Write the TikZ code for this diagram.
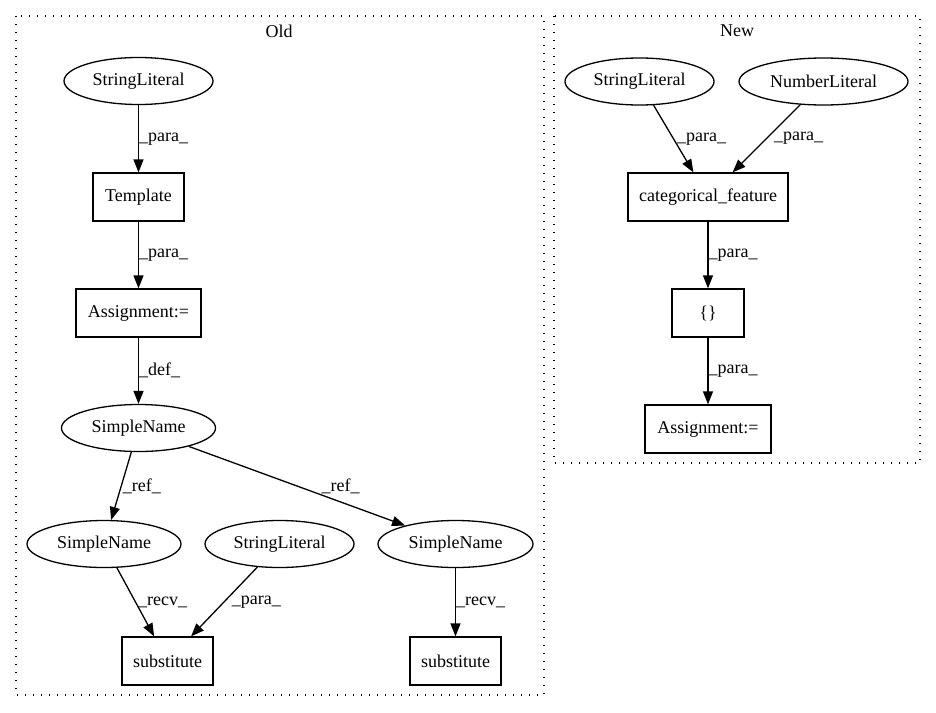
\documentclass[tikz,border=0pt]{standalone}
\usepackage{fontspec}
\setmainfont{Liberation Serif}
\usetikzlibrary{shapes.geometric,arrows.meta}
\tikzset{
  txt/.style={font=\fontsize{18}{20}\selectfont},
  ast/.style={txt, draw, ellipse, line width=1.3pt, inner sep=0pt, minimum height=47pt},
  op/.style={txt, draw, rectangle, line width=1.3pt, inner sep=0pt, minimum height=48pt},
  flow/.style={-{Triangle[length=13pt,width=10pt]}, line width=1.3pt},
  lbl/.style={txt, inner sep=0pt, anchor=west},
  cluster/.style={line width=1.4pt, dash pattern=on 1.4pt off 6.6pt}
}
\begin{document}
\begin{tikzpicture}[x=1pt,y=-1pt]
  \useasboundingbox (0,0) rectangle (936,712);

  % Old
  \begin{scope}
    \draw[cluster] (16,16) rectangle (544,695);
    \node[txt] (oldtitle) at (279,31) {Old};
    \node[ast, minimum width=149pt] (strlit) at (138.5,81) {StringLiteral};
    \node[op, minimum width=91pt] (template) at (138.5,197) {Template};
    \node[op, minimum width=125pt] (assign) at (138.5,313) {Assignment:=};
    \node[ast, minimum width=154pt] (name) at (138.5,428) {SimpleName};
    \node[ast, minimum width=154pt] (nameA) at (104,544) {SimpleName};
    \node[ast, minimum width=149pt] (strlitB) at (279.5,544) {StringLiteral};
    \node[ast, minimum width=155pt] (nameB) at (455.5,544) {SimpleName};
    \node[op, minimum width=91pt] (substA) at (167.5,661) {substitute};
    \node[op, minimum width=91pt] (substB) at (455.5,661) {substitute};
    % Kanten
    \draw[flow] (strlit) -- node[lbl] {\_para\_} (template);
    \draw[flow] (template) -- node[lbl] {\_para\_} (assign);
    \draw[flow] (assign) -- node[lbl] {\_def\_} (name);
    \draw[flow] (name) -- node[lbl, xshift=1pt] {\_ref\_} (nameA);
    \draw[flow] (name) -- node[lbl, xshift=24pt] {\_ref\_} (nameB);
    \draw[flow] (nameA) -- node[lbl, xshift=2pt] {\_recv\_} (substA);
    \draw[flow] (strlitB) -- node[lbl, xshift=7pt] {\_para\_} (substA);
    \draw[flow] (nameB) -- node[lbl] {\_recv\_} (substB);
  \end{scope}

  % New
  \begin{scope}
    \draw[cluster] (554,16) rectangle (920,463);
    \node[txt] (newtitle) at (737,31) {New};
    \node[ast, minimum width=149pt] (strlitN) at (639.5,81.5) {StringLiteral};
    \node[ast, minimum width=169pt] (numlit) at (823.5,81.5) {NumberLiteral};
    \node[op, minimum width=160pt] (catfeat) at (708,197) {categorical\_feature};
    \node[op, minimum width=72pt] (braces) at (708,313) {\{\}};
    \node[op, minimum width=126pt] (assignN) at (708,429) {Assignment:=};
    % Kanten
    \draw[flow] (strlitN) -- node[lbl, xshift=3pt] {\_para\_} (catfeat);
    \draw[flow] (numlit) -- node[lbl, xshift=7pt] {\_para\_} (catfeat);
    \draw[flow] (catfeat) -- node[lbl] {\_para\_} (braces);
    \draw[flow] (braces) -- node[lbl] {\_para\_} (assignN);
  \end{scope}
\end{tikzpicture}
\end{document}
